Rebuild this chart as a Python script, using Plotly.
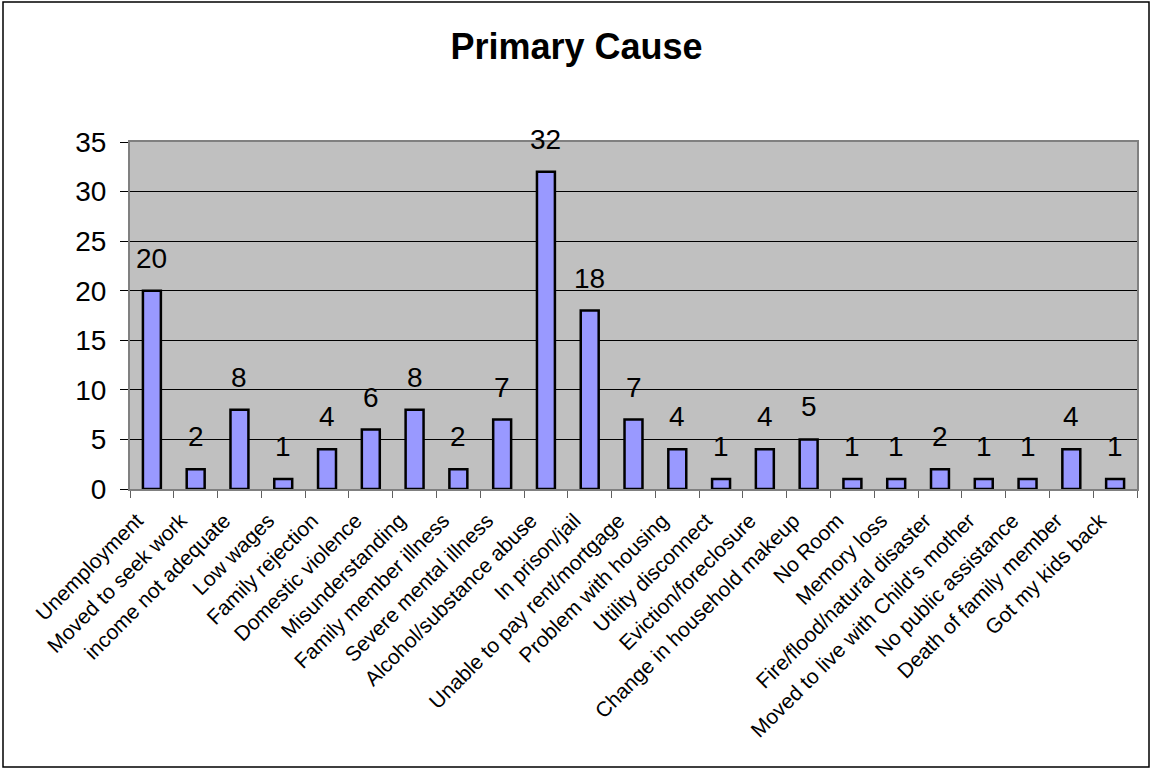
import plotly.graph_objects as go

causes = [
    "Unemployment", "Moved to seek work", "income not adequate", "Low wages",
    "Family rejection", "Domestic violence", "Misunderstanding",
    "Family member illness", "Severe mental illness", "Alcohol/substance abuse",
    "In prison/jail", "Unable to pay rent/mortgage", "Problem with housing",
    "Utility disconnect", "Eviction/foreclosure", "Change in household makeup",
    "No Room", "Memory loss", "Fire/flood/natural disaster",
    "Moved to live with Child's mother", "No public assistance",
    "Death of family member", "Got my kids back",
]
counts = [20, 2, 8, 1, 4, 6, 8, 2, 7, 32, 18, 7, 4, 1, 4, 5, 1, 1, 2, 1, 1, 4, 1]
y_ticks = [0, 5, 10, 15, 20, 25, 30, 35]

W, H = 1153, 771
ML, MR, MT, MB = 130, 16, 142, 282
pw, ph = W - ML - MR, H - MT - MB

fig = go.Figure(
    go.Bar(
        x=causes,
        y=counts,
        marker=dict(color="#9999FF", line=dict(color="black", width=2.5)),
        cliponaxis=False,
    )
)

# value labels above the bars
for c, v in zip(causes, counts):
    fig.add_annotation(
        x=c, y=v, text=str(v), showarrow=False,
        yanchor="bottom", yshift=15,
        font=dict(size=28, color="black"),
    )

fig.update_layout(
    width=W,
    height=H,
    margin=dict(l=ML, r=MR, t=MT, b=MB, autoexpand=False),
    paper_bgcolor="white",
    plot_bgcolor="#C0C0C0",
    font=dict(family="Liberation Sans, Arial", color="black"),
    title=dict(text="<b>Primary Cause</b>", x=0.5, xanchor="center",
               y=1 - 46 / H, yanchor="middle", font=dict(size=36),
               automargin=False),
    bargap=0.59,
    showlegend=False,
)

fig.update_xaxes(
    tickangle=-45,
    tickfont=dict(size=21),
    ticks="outside",
    tickson="boundaries",
    ticklen=7,
    tickcolor="#606060",
    ticklabelshift=-15,
    ticklabelstandoff=9,
    showline=True,
    linecolor="#808080",
    linewidth=2,
    mirror=True,
    showgrid=False,
    automargin=False,
)
fig.update_yaxes(
    range=[0, 35],
    tickvals=y_ticks,
    tickfont=dict(size=28),
    ticks="outside",
    ticklen=8,
    tickcolor="black",
    ticklabelstandoff=8,
    showline=True,
    linecolor="#808080",
    linewidth=2,
    mirror=True,
    gridcolor="black",
    gridwidth=1,
    zeroline=False,
    automargin=False,
)

# outer chart border
fig.add_shape(
    type="rect", xref="paper", yref="paper",
    x0=(3 - ML) / pw, x1=(W - 4 - ML) / pw,
    y0=-(H - 4 - MT - ph) / ph, y1=1 + (MT - 2) / ph,
    line=dict(color="black", width=1.5),
)

# drop the default page margin so the figure fills the window
fig.write_html(
    "out.html",
    config={"displayModeBar": False},
    post_script="document.body.style.margin = '0';",
)
